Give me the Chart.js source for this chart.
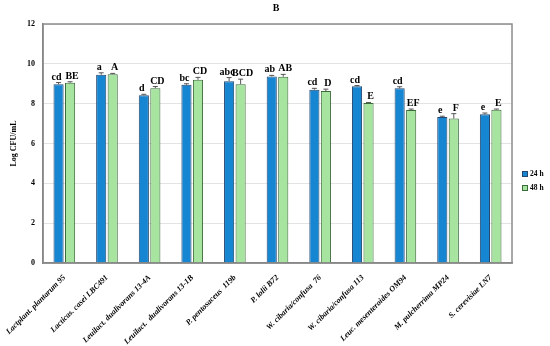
<!DOCTYPE html>
<html>
<head>
<meta charset="utf-8">
<script src="https://cdn.jsdelivr.net/npm/chart.js@4"></script>
<style>
  html, body { margin: 0; padding: 0; background: #fff; }
  #wrap { width: 550px; height: 346px; }
</style>
</head>
<body>
<div id="wrap"><canvas id="chart" width="550" height="346"></canvas></div>
<script>
// Strains on the x axis
const strains = [
    'Lactplant. plantarum 95',
    'Lacticas. casei LBC491',
    'Leuilact. dualivorans 13-4A',
    'Leuilact.  dualivorans 13-1B',
    'P. pentosaceus  119b',
    'P. lolii B72',
    'W. cibaria/confusa  76',
    'W. cibaria/confusa 113',
    'Leuc. mesenteroides OM94',
    'M. pulcherrima MP24',
    'S. cerevisiae LN7'
];

// Log CFU/mL after 24 h and 48 h
const values24 = [8.98, 9.45, 8.42, 8.95, 9.13, 9.37, 8.70, 8.87, 8.77, 7.33, 7.47];
const values48 = [9.05, 9.48, 8.78, 9.20, 8.98, 9.35, 8.63, 8.03, 7.68, 7.25, 7.70];

// standard deviations (upper whisker)
const err24 = [0.08, 0.10, 0.05, 0.05, 0.18, 0.05, 0.07, 0.04, 0.08, 0.04, 0.06];
const err48 = [0.05, 0.04, 0.08, 0.12, 0.25, 0.12, 0.10, 0.03, 0.05, 0.25, 0.03];

// significance letters
const letters24 = ['cd', 'a', 'd', 'bc', 'abc', 'ab', 'cd', 'cd', 'cd', 'e', 'e'];
const letters48 = ['BE', 'A', 'CD', 'CD', 'BCD', 'AB', 'D', 'E', 'EF', 'F', 'E'];

const yTicks = [0, 2, 4, 6, 8, 10, 12];

const serif = '"Liberation Serif", "DejaVu Serif", serif';
const errors = [err24, err48];
const letters = [letters24, letters48];

// draws error bars, letters, frame, title and legend
const extras = {
    id: 'extras',
    afterDatasetsDraw(chart) {
        const ctx = chart.ctx;
        const yScale = chart.scales.y;
        const area = chart.chartArea;

        // frame round the plot area
        ctx.save();
        ctx.strokeStyle = '#8c8c8c';
        ctx.lineWidth = 1.5;
        ctx.strokeRect(area.left, area.top, area.right - area.left, area.bottom - area.top);
        ctx.restore();

        chart.data.datasets.forEach((ds, di) => {
            const meta = chart.getDatasetMeta(di);
            meta.data.forEach((bar, i) => {
                const v = ds.data[i];
                const top = yScale.getPixelForValue(v + errors[di][i]);
                const base = yScale.getPixelForValue(v);
                ctx.save();
                ctx.strokeStyle = '#555';
                ctx.lineWidth = 1;
                ctx.beginPath();
                ctx.moveTo(bar.x, base);
                ctx.lineTo(bar.x, top);
                ctx.moveTo(bar.x - 2.5, top);
                ctx.lineTo(bar.x + 2.5, top);
                ctx.stroke();

                // letters pushed slightly apart, as in the original figure
                ctx.fillStyle = '#000';
                ctx.font = 'bold 10px ' + serif;
                ctx.textAlign = 'center';
                ctx.textBaseline = 'alphabetic';
                const shift = di === 0 ? -2 : 2;
                ctx.fillText(letters[di][i], bar.x + shift, top - 3);
                ctx.restore();
            });
        });

        // title
        ctx.save();
        ctx.fillStyle = '#000';
        ctx.font = 'bold 10px ' + serif;
        ctx.textAlign = 'center';
        ctx.textBaseline = 'middle';
        ctx.fillText('B', 276, 8);

        // legend
        ctx.font = 'bold 7.5px ' + serif;
        ctx.textAlign = 'left';
        chart.data.datasets.forEach((ds, di) => {
            const y = 174 + di * 14;
            ctx.fillStyle = ds.backgroundColor;
            ctx.strokeStyle = ds.borderColor;
            ctx.lineWidth = 1;
            ctx.fillRect(522, y - 3, 6, 6);
            ctx.strokeRect(522.5, y - 2.5, 5, 5);
            ctx.fillStyle = '#000';
            ctx.fillText(ds.label, 530, y);
        });
        ctx.restore();
    }
};

const ctx = document.getElementById('chart').getContext('2d');
new Chart(ctx, {
    type: 'bar',
    data: {
        labels: strains,
        datasets: [{
            label: '24 h',
            data: values24,
            backgroundColor: '#1685d2',
            borderColor: '#23476e',
            borderWidth: 1,
            borderSkipped: 'bottom'
        }, {
            label: '48 h',
            data: values48,
            backgroundColor: '#a6e4a0',
            borderColor: '#3c6b3a',
            borderWidth: 1,
            borderSkipped: 'bottom'
        }]
    },
    options: {
        responsive: false,
        animation: false,
        devicePixelRatio: 1,
        layout: { padding: { top: 24, right: 38, left: 0, bottom: 0 } },
        plugins: {
            legend: { display: false },
            tooltip: { enabled: false }
        },
        datasets: {
            bar: { categoryPercentage: 0.54, barPercentage: 0.88 }
        },
        scales: {
            x: {
                grid: { display: false },
                border: { color: '#777', width: 1.5 },
                ticks: {
                    color: '#000',
                    autoSkip: false,
                    minRotation: 45,
                    maxRotation: 45,
                    padding: 2,
                    font: { family: serif, size: 8, weight: 'bold', style: 'italic' }
                },
                afterFit(scale) { scale.height = 83; }
            },
            y: {
                min: 0,
                max: 12,
                afterBuildTicks(scale) { scale.ticks = yTicks.map(v => ({ value: v })); },
                grid: { color: '#e3e3e3', drawTicks: false },
                border: { color: '#777', width: 1.5 },
                ticks: {
                    color: '#000',
                    padding: 8,
                    font: { family: serif, size: 8, weight: 'bold' }
                },
                title: {
                    display: true,
                    text: 'Log CFU/mL',
                    color: '#000',
                    padding: { top: 9, bottom: 0 },
                    font: { family: serif, size: 8, weight: 'bold' }
                },
                afterFit(scale) { scale.width = 43; }
            }
        }
    },
    plugins: [extras]
});
</script>
</body>
</html>
